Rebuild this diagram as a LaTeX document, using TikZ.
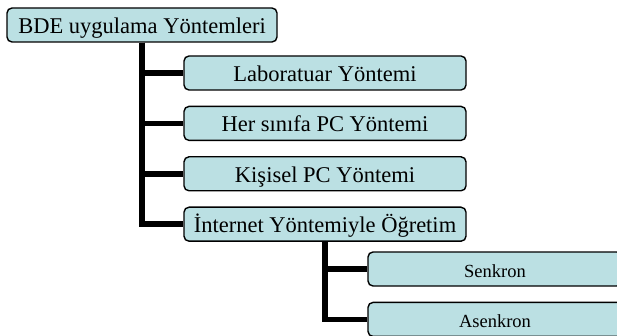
\documentclass[tikz,border=0pt]{standalone}
\usepackage{fontspec}
\setmainfont{Liberation Serif}
\usetikzlibrary{positioning}
\definecolor{boxfill}{RGB}{187,224,227}

\begin{document}
\begin{tikzpicture}[x=1pt, y=-1pt, node distance=15pt,
    method/.style={draw, line width=1.4pt, rounded corners=5pt, fill=boxfill,
      minimum height=34pt, inner sep=0pt, text height=17pt, text depth=0pt,
      font=\fontsize{22.5}{26}\selectfont},
    subbox/.style={method, font=\fontsize{18.5}{22}\selectfont},
    link/.style={line width=5.5pt}]
  \useasboundingbox (0,0) rectangle (617,336);

  % Define nodes
  \node[method, minimum width=270pt] (root) at (142,25) {BDE uygulama Yöntemleri};
  \node[method, minimum width=282pt] (lab) at (325,73) {Laboratuar Yöntemi};
  \node[method, minimum width=282pt, below=of lab] (her) {Her sınıfa PC Yöntemi};
  \node[method, minimum width=282pt, below=of her] (kis) {Kişisel PC Yöntemi};
  \node[method, minimum width=282pt, below=of kis] (int) {İnternet Yöntemiyle Öğretim};
  \node[subbox, minimum width=254pt] (senk) at (495,269) {Senkron};
  \node[subbox, minimum width=254pt, below=of senk] (asenk) {Asenkron};
  % Connect the nodes
  \draw[link] (root) |- (lab);
  \draw[link] (root) |- (her);
  \draw[link] (root) |- (kis);
  \draw[link] (root) |- (int);
  \draw[link] (int) |- (senk);
  \draw[link] (int) |- (asenk);

\end{tikzpicture}
\end{document}
